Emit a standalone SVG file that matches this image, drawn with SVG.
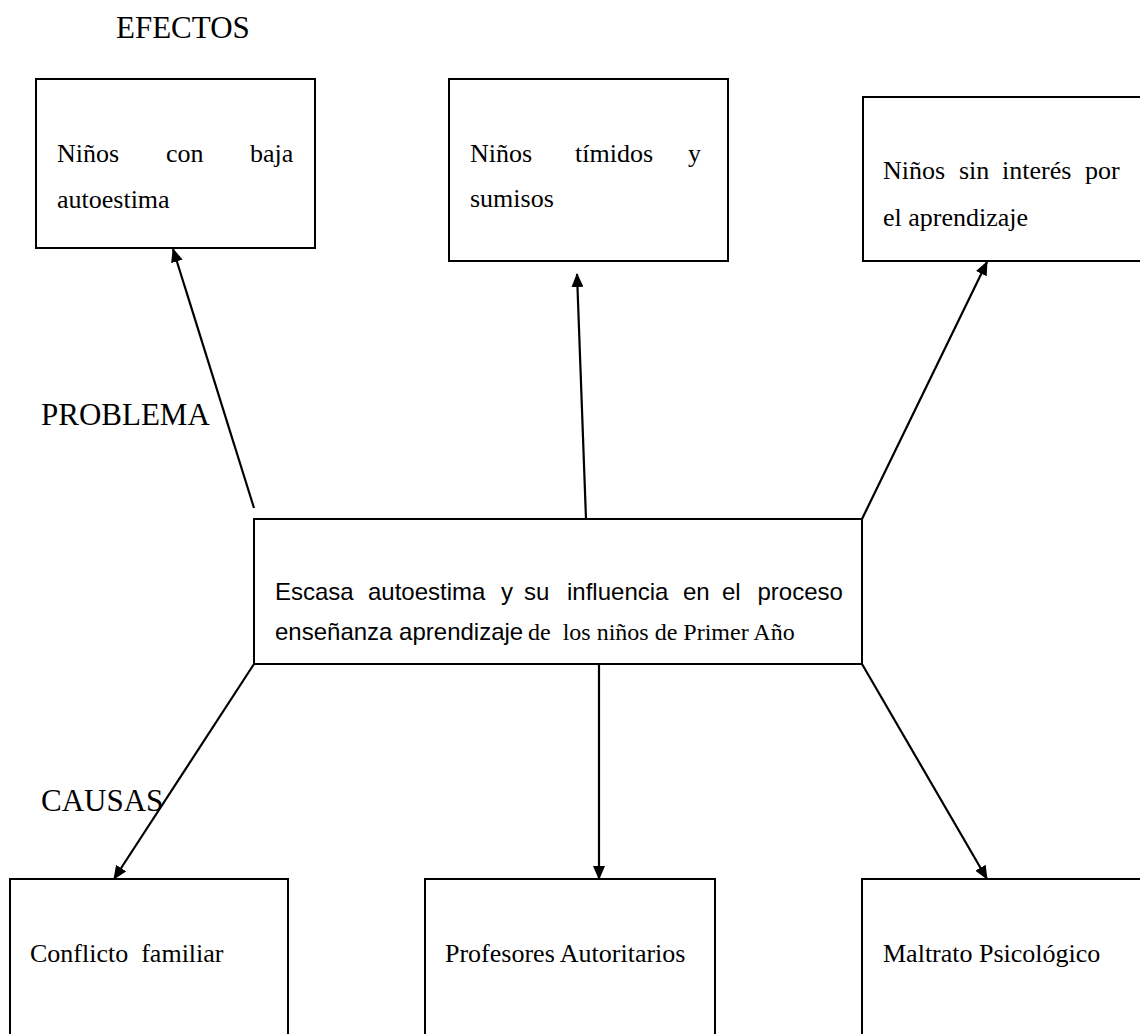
<svg xmlns="http://www.w3.org/2000/svg" width="1140" height="1034" viewBox="0 0 1140 1034">
<style>
.box{fill:#fff;stroke:#000;stroke-width:2}
.t{font-family:"Liberation Serif","Times New Roman",serif;font-size:26px;fill:#000}
.s{font-family:"Liberation Sans",Arial,sans-serif;font-size:24px;fill:#000}
.lbl{font-family:"Liberation Serif","Times New Roman",serif;font-size:31px;fill:#000}
.c{stroke:#000;stroke-width:2.2;fill:none;marker-end:url(#ah)}
</style>
<defs>
<marker id="ah" markerUnits="userSpaceOnUse" markerWidth="14" markerHeight="12" refX="13" refY="6" orient="auto" viewBox="0 0 14 12">
<path d="M0,0 L14,6 L0,12 z" fill="#000"/>
</marker>
</defs>
<rect width="1140" height="1034" fill="#fff"/>
<text class="lbl" x="116" y="38">EFECTOS</text>
<text class="lbl" x="41" y="425">PROBLEMA</text>
<text class="lbl" x="41" y="811">CAUSAS</text>

<g id="efecto1">
<rect class="box" x="36" y="79" width="279" height="169"/>
<text class="t" font-family="Liberation Serif, serif" y="162"><tspan x="57">Niños</tspan><tspan x="166">con</tspan><tspan x="250">baja</tspan></text>
<text class="t" font-family="Liberation Serif, serif" x="57" y="208">autoestima</text>
</g>
<g id="efecto2">
<rect class="box" x="449" y="79" width="279" height="182"/>
<text class="t" font-family="Liberation Serif, serif" y="162"><tspan x="470">Niños</tspan><tspan x="575">tímidos</tspan><tspan x="688">y</tspan></text>
<text class="t" font-family="Liberation Serif, serif" x="470" y="207">sumisos</text>
</g>
<g id="efecto3">
<rect class="box" x="863" y="97" width="300" height="164"/>
<text class="t" font-family="Liberation Serif, serif" y="179"><tspan x="883">Niños</tspan><tspan x="959">sin</tspan><tspan x="1002">interés</tspan><tspan x="1085">por</tspan></text>
<text class="t" font-family="Liberation Serif, serif" x="883" y="226">el aprendizaje</text>
</g>

<g id="problema">
<rect class="box" x="254" y="519" width="608" height="145"/>
<text class="s" y="600"><tspan x="275">Escasa</tspan><tspan x="368">autoestima</tspan><tspan x="501">y</tspan><tspan x="524">su</tspan><tspan x="567">influencia</tspan><tspan x="683">en</tspan><tspan x="722">el</tspan><tspan x="757.5">proceso</tspan></text>
<text y="640"><tspan class="s" x="275">enseñanza aprendizaje</tspan><tspan style="font-family:'Liberation Serif','Times New Roman',serif;font-size:24px" x="528" xml:space="preserve">de  los niños de Primer Año</tspan></text>
</g>

<g id="causa1">
<rect class="box" x="10" y="879" width="278" height="200"/>
<text class="t" x="30" y="962" xml:space="preserve">Conflicto  familiar</text>
</g>
<g id="causa2">
<rect class="box" x="425" y="879" width="290" height="200"/>
<text class="t" x="445" y="962">Profesores Autoritarios</text>
</g>
<g id="causa3">
<rect class="box" x="862" y="879" width="300" height="200"/>
<text class="t" x="883" y="962">Maltrato Psicológico</text>
</g>

<g id="connectors">
<line class="c" x1="254" y1="508" x2="173" y2="249"/>
<line class="c" x1="586" y1="519" x2="577" y2="274"/>
<line class="c" x1="862" y1="519" x2="987" y2="262"/>
<line class="c" x1="254" y1="664" x2="114" y2="879"/>
<line class="c" x1="599" y1="664" x2="599" y2="879"/>
<line class="c" x1="862" y1="664" x2="987" y2="879"/>
</g>
</svg>
